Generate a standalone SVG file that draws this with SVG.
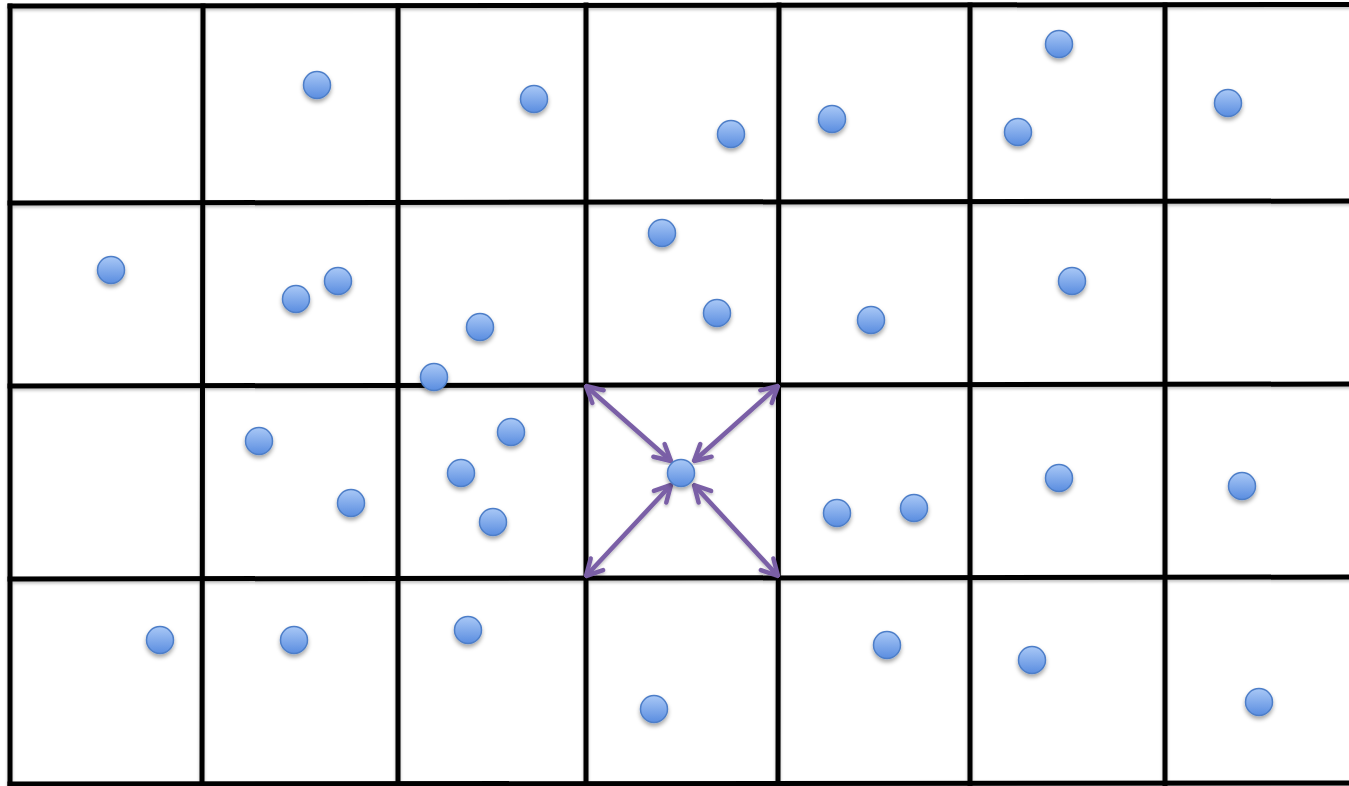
<svg xmlns="http://www.w3.org/2000/svg" width="1349" height="786" viewBox="0 0 1349 786">
  <defs>
    <linearGradient id="dotg" x1="0" y1="0" x2="0" y2="1">
      <stop offset="0" stop-color="#a9c8f6"/>
      <stop offset="1" stop-color="#5a8de0"/>
    </linearGradient>
    <filter id="sh" x="-50%" y="-50%" width="200%" height="200%">
      <feDropShadow dx="0" dy="3" stdDeviation="2" flood-color="#000" flood-opacity="0.35"/>
    </filter>
    <filter id="lsh" x="-5%" y="-5%" width="110%" height="110%">
      <feDropShadow dx="0" dy="2" stdDeviation="1.5" flood-color="#000" flood-opacity="0.25"/>
    </filter>
    <marker id="ah" viewBox="0 0 22 22" refX="20" refY="11" markerWidth="22" markerHeight="22" markerUnits="userSpaceOnUse" orient="auto-start-reverse">
      <path d="M4,2.5 L20,11 L4,19.5" fill="none" stroke="#7a5ea6" stroke-width="4.5" stroke-linecap="round" stroke-linejoin="round"/>
    </marker>
    <style>
      .grid line { stroke:#000; stroke-width:5; stroke-linecap:square; }
      .dot { fill:url(#dotg); stroke:#4d7ec8; stroke-width:1.5; filter:url(#sh); }
      .arr { stroke:#7a5ea6; stroke-width:4.5; fill:none; marker-start:url(#ah); marker-end:url(#ah); filter:url(#lsh); }
    </style>
  </defs>
  <rect width="1349" height="786" fill="#fff"/>
  <g id="grid" class="grid" filter="url(#lsh)">
    <line x1="10" y1="6" x2="1349" y2="4.5"/>
    <line x1="10" y1="203" x2="1349" y2="201"/>
    <line x1="10" y1="386" x2="1349" y2="384"/>
    <line x1="10" y1="579" x2="1349" y2="577"/>
    <line x1="10" y1="784" x2="1349" y2="783"/>
    <line x1="10" y1="6" x2="10" y2="784"/>
    <line x1="203" y1="6" x2="202" y2="784"/>
    <line x1="398" y1="6" x2="398" y2="784"/>
    <line x1="586" y1="5" x2="586" y2="784"/>
    <line x1="779" y1="5" x2="778" y2="784"/>
    <line x1="970" y1="5" x2="970" y2="784"/>
    <line x1="1165" y1="5" x2="1165" y2="784"/>
  </g>
  <g id="connectors">
    <line class="arr" x1="586" y1="386" x2="671" y2="461"/>
    <line class="arr" x1="778" y1="386" x2="694" y2="461"/>
    <line class="arr" x1="586" y1="576" x2="671" y2="485"/>
    <line class="arr" x1="778" y1="576" x2="694" y2="485"/>
  </g>
  <g id="points">
    <circle id="p1" class="dot" cx="317" cy="85" r="13.5"/>
    <circle id="p2" class="dot" cx="534" cy="99" r="13.5"/>
    <circle id="p3" class="dot" cx="731" cy="134" r="13.5"/>
    <circle id="p4" class="dot" cx="832" cy="119" r="13.5"/>
    <circle id="p5" class="dot" cx="1059" cy="44" r="13.5"/>
    <circle id="p6" class="dot" cx="1018" cy="132" r="13.5"/>
    <circle id="p7" class="dot" cx="1228" cy="103" r="13.5"/>
    <circle id="p8" class="dot" cx="111" cy="270" r="13.5"/>
    <circle id="p9" class="dot" cx="296" cy="299" r="13.5"/>
    <circle id="p10" class="dot" cx="338" cy="281" r="13.5"/>
    <circle id="p11" class="dot" cx="480" cy="327" r="13.5"/>
    <circle id="p12" class="dot" cx="662" cy="233" r="13.5"/>
    <circle id="p13" class="dot" cx="717" cy="313" r="13.5"/>
    <circle id="p14" class="dot" cx="871" cy="320" r="13.5"/>
    <circle id="p15" class="dot" cx="1072" cy="281" r="13.5"/>
    <circle id="p16" class="dot" cx="434" cy="377" r="13.5"/>
    <circle id="p17" class="dot" cx="259" cy="441" r="13.5"/>
    <circle id="p18" class="dot" cx="351" cy="503" r="13.5"/>
    <circle id="p19" class="dot" cx="511" cy="432" r="13.5"/>
    <circle id="p20" class="dot" cx="461" cy="473" r="13.5"/>
    <circle id="p21" class="dot" cx="493" cy="522" r="13.5"/>
    <circle id="p22" class="dot" cx="681" cy="473" r="13.5"/>
    <circle id="p23" class="dot" cx="837" cy="513" r="13.5"/>
    <circle id="p24" class="dot" cx="914" cy="508" r="13.5"/>
    <circle id="p25" class="dot" cx="1059" cy="478" r="13.5"/>
    <circle id="p26" class="dot" cx="1242" cy="486" r="13.5"/>
    <circle id="p27" class="dot" cx="160" cy="640" r="13.5"/>
    <circle id="p28" class="dot" cx="294" cy="640" r="13.5"/>
    <circle id="p29" class="dot" cx="468" cy="630" r="13.5"/>
    <circle id="p30" class="dot" cx="654" cy="709" r="13.5"/>
    <circle id="p31" class="dot" cx="887" cy="645" r="13.5"/>
    <circle id="p32" class="dot" cx="1032" cy="660" r="13.5"/>
    <circle id="p33" class="dot" cx="1259" cy="702" r="13.5"/>
  </g>
</svg>
